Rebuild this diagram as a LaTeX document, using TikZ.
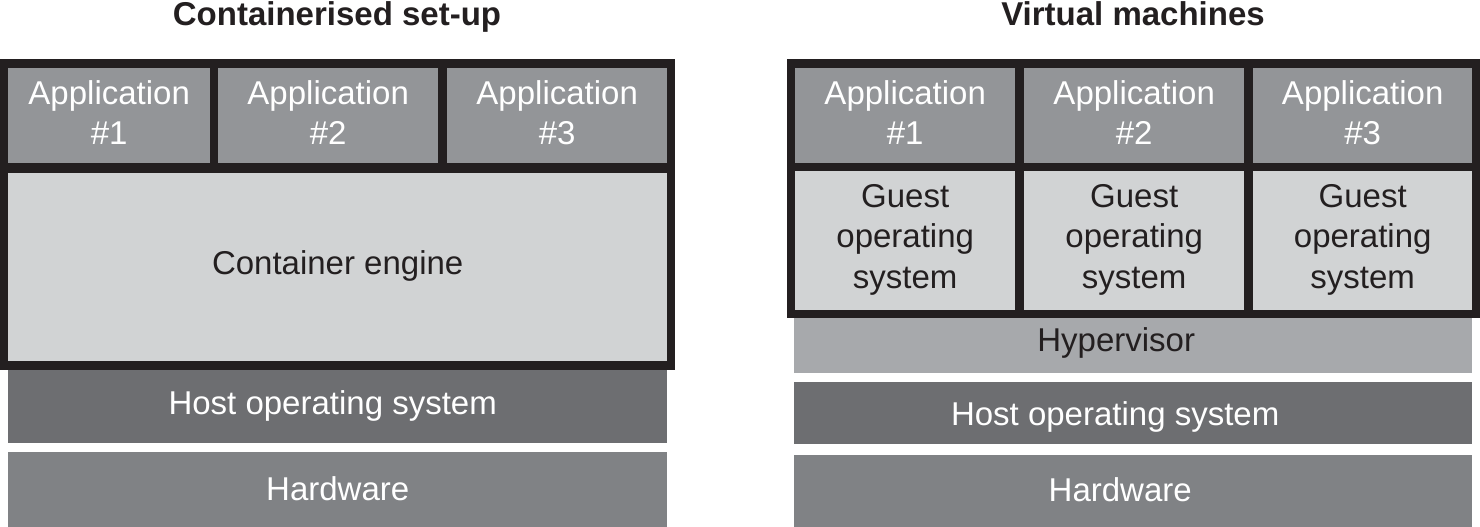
\documentclass[tikz,border=0pt]{standalone}
\usepackage{fontspec}
\setmainfont{Liberation Sans}
\definecolor{frameblk}{HTML}{231F20}
\definecolor{appgray}{HTML}{939598}
\definecolor{lightgray}{HTML}{D1D3D4}
\definecolor{hostgray}{HTML}{6D6E71}
\definecolor{hwgray}{HTML}{808285}
\definecolor{hypgray}{HTML}{A7A9AC}
\tikzset{
  box/.style={draw=none, inner sep=0pt, anchor=north west},
  appbox/.style={box, fill=appgray},
  lightbox/.style={box, fill=lightgray},
  hostbox/.style={box, fill=hostgray},
  hwbox/.style={box, fill=hwgray},
  hypbox/.style={box, fill=hypgray},
  framebox/.style={fill=frameblk, draw=none, inner sep=0pt, anchor=north west},
  txt/.style={inner sep=0pt, align=center, font=\fontsize{33}{40.5}\selectfont},
  wtxt/.style={txt, text=white},
  dtxt/.style={txt, text=frameblk},
  title/.style={font=\bfseries\fontsize{33}{40}\selectfont, anchor=base, inner sep=0pt, text=frameblk}
}
\begin{document}
\begin{tikzpicture}[x=1pt,y=-1pt]
\useasboundingbox (0,0) rectangle (1480,527);
% titles
\node[title] (t1) at (337,26) {Containerised set-up};
\node[title] (t2) at (1133,26) {Virtual machines};
% ---------- left panel ----------
\node[framebox, minimum width=675pt, minimum height=311pt] (lframe) at (0,59) {};
\node[appbox, minimum width=202pt, minimum height=95pt] (la1) at (8,68) {};
\node[appbox, minimum width=220pt, minimum height=95pt] (la2) at (218,68) {};
\node[appbox, minimum width=220pt, minimum height=95pt] (la3) at (447,68) {};
\node[lightbox, minimum width=659pt, minimum height=188pt] (lce) at (8,173) {};
\node[hostbox, minimum width=659pt, minimum height=73pt] (lhost) at (8,370) {};
\node[hwbox, minimum width=659pt, minimum height=75pt] (lhw) at (8,452) {};
\node[wtxt] (la1t) at ([yshift=3pt]la1.center) {Application\\\#1};
\node[wtxt] (la2t) at ([yshift=3pt]la2.center) {Application\\\#2};
\node[wtxt] (la3t) at ([yshift=3pt]la3.center) {Application\\\#3};
\node[dtxt] (lcet) at ([yshift=1pt]lce.center) {Container engine};
\node[wtxt] (lhostt) at ([xshift=-5pt,yshift=1pt]lhost.center) {Host operating system};
\node[wtxt] (lhwt) at ([yshift=1pt]lhw.center) {Hardware};
% ---------- right panel ----------
\node[framebox, minimum width=693pt, minimum height=259pt] (rframe) at (787,59) {};
\node[appbox, minimum width=220pt, minimum height=95pt] (ra1) at (795,68) {};
\node[appbox, minimum width=220pt, minimum height=95pt] (ra2) at (1024,68) {};
\node[appbox, minimum width=219pt, minimum height=95pt] (ra3) at (1253,68) {};
\node[lightbox, minimum width=220pt, minimum height=139pt] (rg1) at (795,171) {};
\node[lightbox, minimum width=220pt, minimum height=139pt] (rg2) at (1024,171) {};
\node[lightbox, minimum width=219pt, minimum height=139pt] (rg3) at (1253,171) {};
\node[hypbox, minimum width=678pt, minimum height=55pt] (rhyp) at (794,318) {};
\node[hostbox, minimum width=678pt, minimum height=62pt] (rhost) at (794,382) {};
\node[hwbox, minimum width=678pt, minimum height=72pt] (rhw) at (794,455) {};
\node[wtxt] (ra1t) at ([yshift=3pt]ra1.center) {Application\\\#1};
\node[wtxt] (ra2t) at ([yshift=3pt]ra2.center) {Application\\\#2};
\node[wtxt] (ra3t) at ([yshift=3pt]ra3.center) {Application\\\#3};
\node[dtxt] (rg1t) at ([yshift=1pt]rg1.center) {Guest\\operating\\system};
\node[dtxt] (rg2t) at ([yshift=1pt]rg2.center) {Guest\\operating\\system};
\node[dtxt] (rg3t) at ([yshift=1pt]rg3.center) {Guest\\operating\\system};
\node[dtxt] (rhypt) at ([xshift=-17pt,yshift=3pt]rhyp.center) {Hypervisor};
\node[wtxt] (rhostt) at ([xshift=-18pt,yshift=-4pt]rhost.center) {Host operating system};
\node[wtxt] (rhwt) at ([xshift=-13pt,yshift=2pt]rhw.center) {Hardware};
\end{tikzpicture}
\end{document}
